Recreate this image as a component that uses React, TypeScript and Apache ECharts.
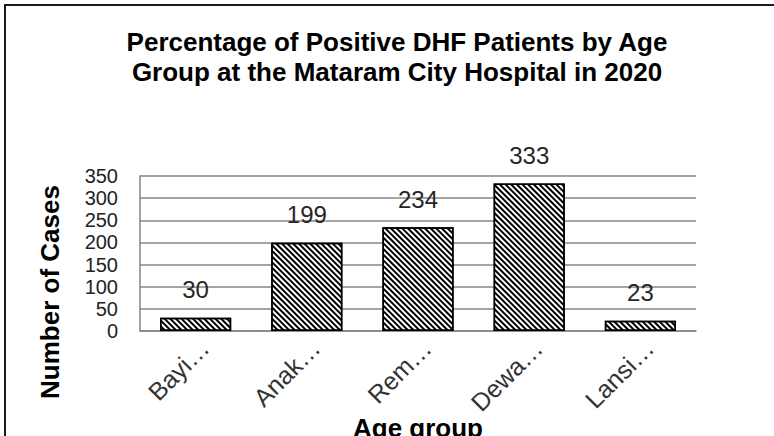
import React, { useEffect, useRef } from "react";
import * as echarts from "echarts";

const categories = ["Bayi…", "Anak…", "Rem…", "Dewa…", "Lansi…"];
const cases = [30, 199, 234, 333, 23];
const titleLines = [
  "Percentage of Positive DHF Patients by Age",
  "Group at the Mataram City Hospital in 2020",
];
const yAxisTitle = "Number of Cases";
const xAxisTitle = "Age group";

const FONT = "Liberation Sans, Arial, sans-serif";

export default function App() {
  const ref = useRef<HTMLDivElement>(null);
  useEffect(() => {
    document.body.style.margin = "0";
    document.body.style.overflow = "hidden";
    document.documentElement.style.overflow = "hidden";
    if (!ref.current) return;
    const chart = echarts.init(ref.current, null, { renderer: "svg" });
    chart.setOption({
      animation: false,
      backgroundColor: "#fff",
      title: {
        text: titleLines.join("\n"),
        left: 392,
        textAlign: "center",
        top: 22,
        textStyle: {
          fontFamily: FONT,
          fontSize: 26,
          fontWeight: "bold",
          color: "#000",
          lineHeight: 30,
        },
      },
      graphic: [
        {
          type: "line",
          shape: { x1: 5, y1: 4, x2: 5, y2: 436 },
          style: { stroke: "#1a1a1a", lineWidth: 2 },
          silent: true,
        },
        {
          type: "line",
          shape: { x1: 4, y1: 5, x2: 774, y2: 5 },
          style: { stroke: "#1a1a1a", lineWidth: 2 },
          silent: true,
        },
        {
          type: "text",
          x: 50,
          y: 292,
          rotation: Math.PI / 2,
          style: {
            text: yAxisTitle,
            align: "center",
            verticalAlign: "middle",
            fontFamily: FONT,
            fontSize: 26,
            fontWeight: "bold",
            fill: "#000",
          },
        },
      ],
      grid: {
        left: 140,
        right: 78,
        top: 176,
        bottom: 105,
        containLabel: false,
        outerBoundsMode: "none",
      },
      xAxis: {
        type: "category",
        data: categories,
        name: xAxisTitle,
        nameLocation: "middle",
        nameGap: 84,
        nameMoveOverlap: false,
        nameTextStyle: {
          fontFamily: FONT,
          fontSize: 26,
          fontWeight: "bold",
          color: "#000",
        },
        axisLine: { show: true, lineStyle: { color: "#868686", width: 1.5 } },
        axisTick: { show: false },
        axisLabel: {
          rotate: 45,
          interval: 0,
          margin: 4,
          verticalAlign: "top",
          fontFamily: FONT,
          fontSize: 25,
          color: "#333",
        },
      },
      yAxis: {
        type: "value",
        min: 0,
        max: 350,
        interval: 50,
        axisLine: { show: true, lineStyle: { color: "#868686", width: 1.5 } },
        axisTick: { show: false },
        splitLine: { show: true, lineStyle: { color: "#868686", width: 1.5 } },
        axisLabel: {
          margin: 22,
          showMinLabel: true,
          showMaxLabel: true,
          hideOverlap: false,
          fontFamily: FONT,
          fontSize: 20,
          lineHeight: 12,
          color: "#222",
        },
      },
      series: [
        {
          type: "bar",
          data: cases,
          barCategoryGap: "36%",
          itemStyle: {
            color: "#fff",
            borderColor: "#000",
            borderWidth: 1.5,
            decal: {
              symbol: "rect",
              symbolSize: 1,
              color: "#000",
              dashArrayX: [1, 0],
              dashArrayY: [2, 2],
              rotation: Math.PI / 4,
            },
          },
          label: {
            show: true,
            position: "top",
            distance: 16,
            fontFamily: FONT,
            fontSize: 24,
            color: "#262626",
          },
        },
      ],
    });
    return () => chart.dispose();
  }, []);
  return <div ref={ref} style={{ width: 774, height: 436 }} />;
}
